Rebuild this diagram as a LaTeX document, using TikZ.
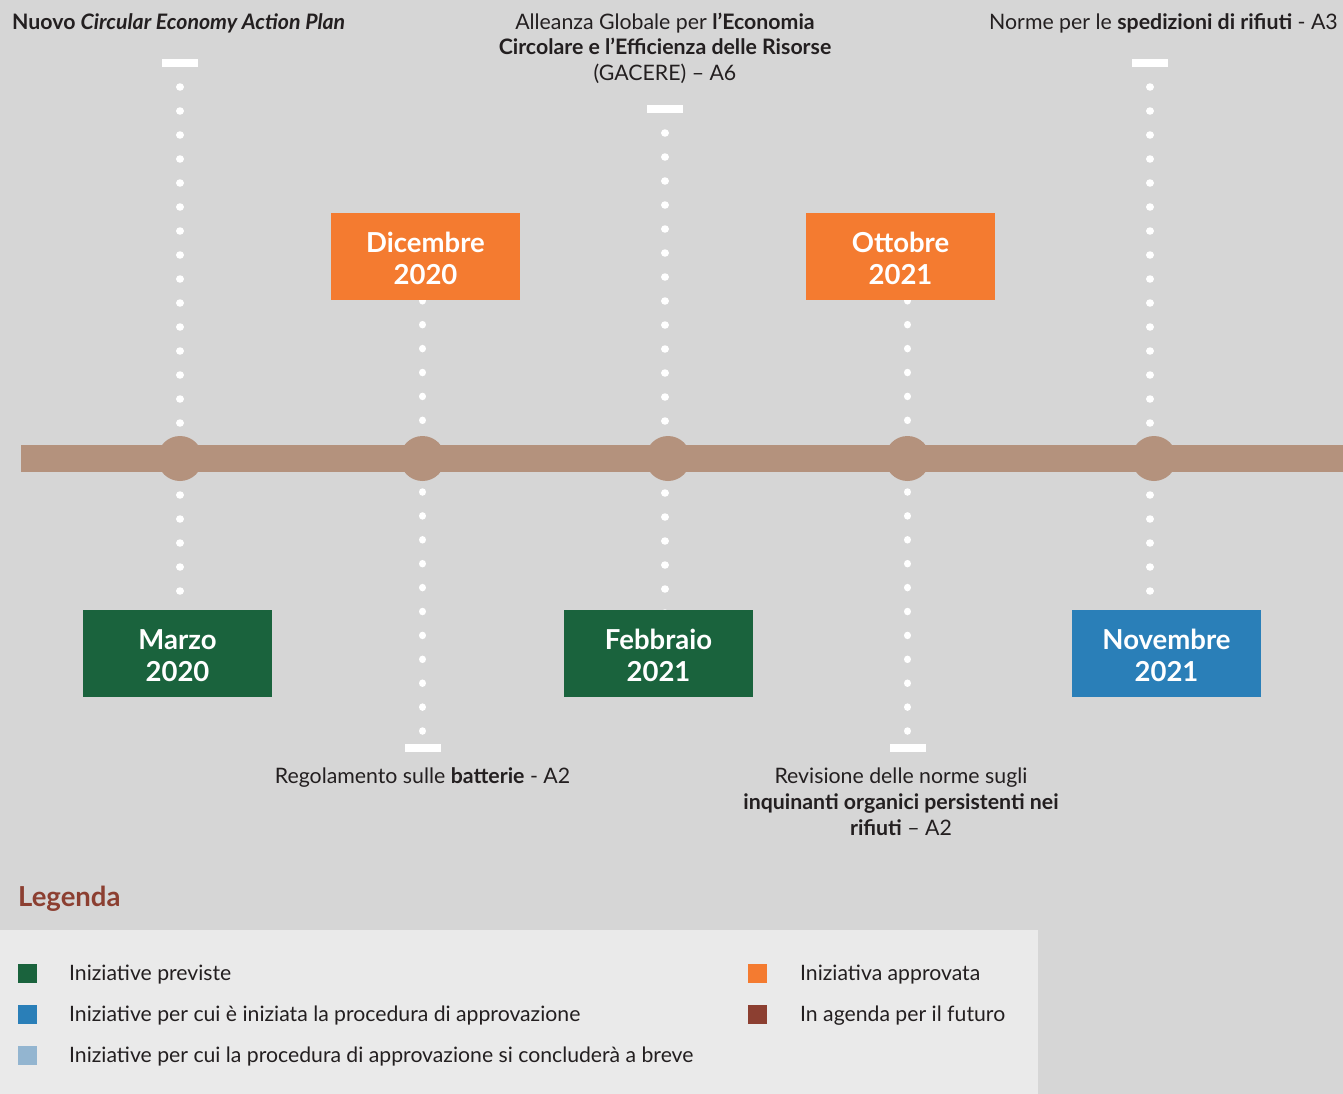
\documentclass[tikz,border=0pt]{standalone}
\usepackage{fontspec}
\setmainfont{Lato}
\pgfdeclarelayer{bg}
\pgfsetlayers{bg,main}
\definecolor{bgc}{HTML}{D6D6D6}
\definecolor{panel}{HTML}{EAEAEA}
\definecolor{barc}{HTML}{B4927D}
\definecolor{gr}{HTML}{1A633D}
\definecolor{orc}{HTML}{F47B30}
\definecolor{blc}{HTML}{2A7FB8}
\definecolor{lbc}{HTML}{93B5D0}
\definecolor{brc}{HTML}{8C3F31}
\definecolor{txt}{HTML}{231F20}
\newcommand{\topstrut}{\rule{0pt}{24pt}}
\tikzset{
  datebox/.style={fill=#1, text=white, minimum width=189pt, minimum height=87pt, inner sep=0pt, align=center, font=\fontsize{27.5}{32}\selectfont\bfseries},
  tick/.style={fill=white, minimum width=36pt, minimum height=8pt, inner sep=0pt},
  dots/.style={white, line width=7.5pt, line cap=round, dash pattern=on 0.01pt off 23.99pt},
  dotsb/.style={white, line width=7.5pt, line cap=round, dash pattern=on 0.01pt off 23.89pt, dash phase=3.5pt},
  lbl/.style={text=txt, inner sep=0pt, font=\fontsize{21.3}{25}\selectfont},
  knot/.style={circle, fill=barc, minimum size=45pt, inner sep=0pt},
  sq/.style={fill=#1, minimum size=19pt, inner sep=0pt},
  leg/.style={text=txt, inner sep=0pt, anchor=base west, font=\fontsize{21.2}{25}\selectfont},
}
\begin{document}
\begin{tikzpicture}[x=1pt,y=-1pt]
\useasboundingbox (0,0) rectangle (1343,1094);
\begin{pgfonlayer}{bg}
\fill[bgc] (0,0) rectangle (1343,1094);
\end{pgfonlayer}
% legend panel
\fill[panel] (0,930) rectangle (1038,1094);
% date boxes
\node[datebox=orc] (d1) at (425.5,256.5) {\topstrut Dicembre\\2020};
\node[datebox=orc] (d2) at (900.5,256.5) {\topstrut Ottobre\\2021};
\node[datebox=gr]  (m1) at (177.5,653.5) {\topstrut Marzo\\2020};
\node[datebox=gr]  (m2) at (658.5,653.5) {\topstrut Febbraio\\2021};
\node[datebox=blc] (m3) at (1166.5,653.5) {\topstrut Novembre\\2021};
% ticks
\node[tick] (t1) at (180,63) {};
\node[tick] (t2) at (422.5,748) {};
\node[tick] (t3) at (665,109) {};
\node[tick] (t4) at (907.5,748) {};
\node[tick] (t5) at (1150,63) {};
% dotted connectors
\begin{pgfonlayer}{bg}
\draw[dots] (t1.center) -- (t1.center |- m1.center);
\draw[dotsb] (t2.center |- d1.center) -- (t2.center);
\draw[dots] (t3.center) -- (t3.center |- m2.center);
\draw[dotsb] (t4.center |- d2.center) -- (t4.center);
\draw[dots] (t5.center) -- (t5.center |- m3.center);
\end{pgfonlayer}
% timeline bar
\fill[barc] (21,445) rectangle (1343,472);
\node[knot] (k1) at (180,458.5) {};
\node[knot] (k2) at (422.5,458.5) {};
\node[knot] (k3) at (668,458.5) {};
\node[knot] (k4) at (907.5,458.5) {};
\node[knot] (k5) at (1154,458.5) {};
% top labels
\node[lbl, anchor=base west] (a1) at (12,29.5) {\bfseries Nuovo \textit{Circular Economy Action Plan}};
\node[lbl, anchor=base] (b1) at (665,29.5) {Alleanza Globale per \textbf{l’Economia}};
\node[lbl, anchor=base] (b2) at (665,54.5) {\textbf{Circolare e l’Efficienza delle Risorse}};
\node[lbl, anchor=base] (b3) at (665,80.5) {(GACERE) – A6};
\node[lbl, anchor=base east] (c1) at (1338,29.5) {Norme per le \textbf{spedizioni di rifiuti} - A3};
% bottom labels
\node[lbl, anchor=base] (e1) at (422.5,783.5) {Regolamento sulle \textbf{batterie} - A2};
\node[lbl, anchor=base] (f1) at (901,783.5) {Revisione delle norme sugli};
\node[lbl, anchor=base] (f2) at (901,809.5) {\textbf{inquinanti organici persistenti nei}};
\node[lbl, anchor=base] (f3) at (901,835.5) {\textbf{rifiuti} – A2};
% legend
\node[inner sep=0pt, anchor=base west, text=brc, font=\fontsize{27.5}{30}\selectfont\bfseries] (lg) at (18,906.5) {Legenda};
\node[sq=gr]  (s1) at (27.5,973) {};
\node[sq=blc] (s2) at (27.5,1014) {};
\node[sq=lbc] (s3) at (27.5,1055) {};
\node[sq=orc] (s4) at (757.5,973) {};
\node[sq=brc] (s5) at (757.5,1014) {};
\node[leg] (l1) at (69,980.5) {Iniziative previste};
\node[leg] (l2) at (69,1021.5) {Iniziative per cui è iniziata la procedura di approvazione};
\node[leg] (l3) at (69,1062.5) {Iniziative per cui la procedura di approvazione si concluderà a breve};
\node[leg] (l4) at (800,980.5) {Iniziativa approvata};
\node[leg] (l5) at (800,1021.5) {In agenda per il futuro};
\end{tikzpicture}
\end{document}
